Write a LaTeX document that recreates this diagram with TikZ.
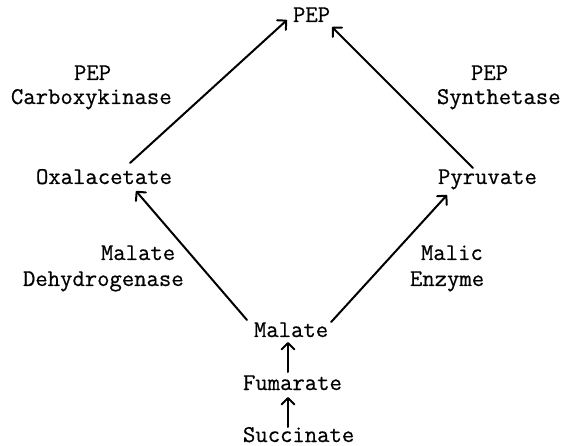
\documentclass[tikz,border=0pt]{standalone}
\usepackage{fontspec}
\newfontfamily\typewriter{Latin Modern Mono}[FakeBold=0.6]
\usetikzlibrary{arrows.meta,calc}
\begin{document}
\begin{tikzpicture}[x=1pt,y=-1pt,
  lbl/.style={anchor=base west,inner sep=0pt,outer sep=0pt,
    font=\fontsize{24}{28}\selectfont\typewriter},
  arr/.style={line width=2pt,line cap=round,
    -{Straight Barb[length=6.5pt,width=13pt,line width=2pt,round]}}]
\useasboundingbox (0,0) rectangle (565,446);
% metabolites
\node[lbl] (pep)    at (293,22)  {PEP};
\node[lbl] (ox)     at (36,184)  {Oxalacetate};
\node[lbl] (pyr)    at (438,184) {Pyruvate};
\node[lbl] (malate) at (254,337) {Malate};
\node[lbl] (fum)    at (243,390) {Fumarate};
\node[lbl] (succ)   at (243,442) {Succinate};
% enzymes
\node[lbl] (pepL)   at (74,80)   {PEP};
\node[lbl] (carb)   at (11,104)  {Carboxykinase};
\node[lbl] (pepR)   at (471,80)  {PEP};
\node[lbl] (synth)  at (437,104) {Synthetase};
\node[lbl] (malL)   at (101,260) {Malate};
\node[lbl] (dehyd)  at (23,286)  {Dehydrogenase};
\node[lbl] (malic)  at (421,260) {Malic};
\node[lbl] (enzyme) at (410,286) {Enzyme};
% reactions
\draw[arr] ($(ox.base west)+(94,-21)$) -- ($(pep.base west)+(-6,-2)$);
\draw[arr] ($(pyr.base west)+(35,-16)$) -- ($(pep.base east)+(2,5)$);
\draw[arr] ($(malate.base west)+(-7,-17)$) -- ($(ox.base west)+(100,7)$);
\draw[arr] ($(malate.base east)+(3,-15)$) -- ($(pyr.base west)+(9,11)$);
\draw[arr] ($(fum.base west)+(45,-18)$) -- ($(malate.base west)+(34,5)$);
\draw[arr] ($(succ.base west)+(45,-15)$) -- ($(fum.base west)+(45,7)$);
\end{tikzpicture}
\end{document}
